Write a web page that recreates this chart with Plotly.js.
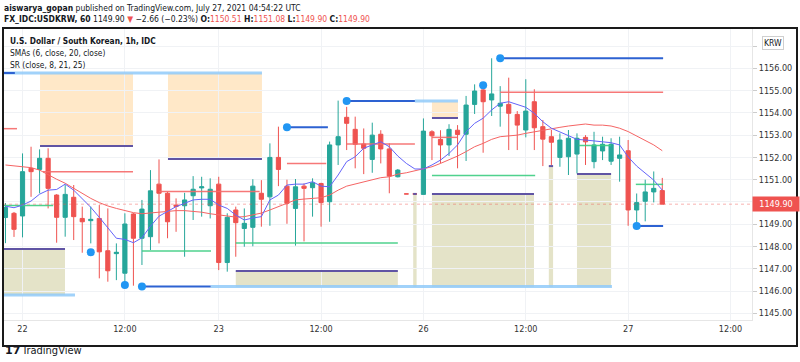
<!DOCTYPE html>
<html><head><meta charset="utf-8">
<script src="https://cdn.plot.ly/plotly-3.0.1.min.js"></script>
<style>html,body{margin:0;padding:0;background:#fff;}#chart{width:800px;height:362px;}</style>
</head><body><div id="chart"></div>
<script>
// ---- candle data (1h bars, first bar = index -1) ----
const openP  = [1149.30,1149.49,1149.37,1151.51,1151.46,1151.96,1150.31,1149.31,1150.21,1149.26,1149.16,1149.26,1147.81,1147.68,1146.80,1149.46,1148.37,1148.44,1150.80,1150.39,1149.86,1149.83,1150.28,1150.63,1149.83,1150.80,1147.28,1149.64,1148.81,1148.86,1150.39,1150.23,1152.00,1150.71,1149.71,1150.71,1150.64,1150.83,1150.01,1152.56,1153.80,1153.26,1152.60,1151.91,1153.04,1152.38,1151.13,1150.36,1150.36,1150.34,1153.15,1152.81,1152.56,1153.22,1153.04,1154.38,1155.03,1154.58,1154.30,1154.38,1153.93,1153.23,1154.50,1153.38,1152.93,1152.00,1152.03,1152.15,1152.90,1151.81,1152.29,1151.83,1151.96,1152.30,1149.64,1150.03,1150.45,1150.51];
const highP  = [1149.95,1149.55,1152.18,1152.48,1152.36,1152.41,1150.35,1150.76,1150.76,1149.79,1149.79,1149.86,1149.71,1148.14,1149.49,1149.50,1150.09,1151.43,1151.91,1150.45,1150.16,1150.41,1151.16,1151.13,1151.06,1151.13,1149.49,1149.79,1149.71,1151.02,1150.98,1152.63,1153.38,1151.00,1151.03,1150.83,1151.06,1150.86,1152.71,1154.55,1154.27,1153.83,1153.30,1153.56,1153.22,1152.63,1151.48,1150.36,1150.36,1153.75,1153.22,1153.22,1153.49,1153.45,1154.76,1155.28,1155.10,1156.45,1155.20,1155.58,1154.08,1155.51,1155.06,1153.68,1153.23,1153.08,1153.23,1153.08,1153.00,1153.15,1152.93,1152.86,1152.93,1152.78,1150.38,1151.00,1151.37,1151.08];
const lowP   = [1148.15,1148.43,1148.41,1150.23,1150.39,1149.71,1148.17,1148.44,1148.29,1147.72,1148.14,1146.57,1146.42,1146.49,1146.35,1146.24,1147.17,1147.84,1148.14,1148.37,1148.66,1147.54,1149.19,1149.34,1149.26,1146.94,1146.87,1147.54,1147.99,1148.01,1148.89,1148.93,1150.71,1149.02,1148.04,1148.23,1149.34,1148.89,1149.11,1151.66,1152.33,1151.51,1151.25,1151.31,1151.73,1150.39,1151.10,1150.36,1150.36,1150.34,1151.88,1151.73,1152.06,1151.51,1151.84,1153.95,1152.21,1153.86,1153.38,1152.33,1152.33,1152.90,1152.33,1151.61,1151.66,1151.58,1151.21,1151.28,1151.66,1151.51,1151.88,1151.66,1150.91,1148.93,1148.96,1149.13,1149.98,1149.90];
const closeP = [1149.75,1148.77,1151.36,1151.36,1151.96,1150.61,1149.31,1150.34,1149.34,1149.11,1149.22,1147.76,1146.91,1147.74,1149.01,1148.37,1149.68,1150.50,1150.39,1149.11,1149.80,1150.09,1150.57,1150.68,1150.57,1147.28,1149.31,1149.07,1149.04,1150.71,1150.12,1152.00,1151.46,1149.94,1150.68,1150.61,1150.86,1149.97,1152.56,1152.93,1153.53,1152.59,1152.41,1153.00,1152.38,1151.16,1151.43,1150.36,1150.36,1153.18,1152.97,1152.56,1153.26,1153.03,1154.35,1154.98,1154.50,1154.85,1154.43,1153.98,1153.45,1154.08,1153.33,1152.82,1152.68,1152.78,1152.86,1152.86,1152.70,1152.56,1152.59,1152.59,1152.11,1149.64,1149.97,1150.45,1150.61,1149.90];
// ---- indicator lines ----
const sma6  = [1149.81,1149.74,1149.86,1150.04,1150.35,1150.53,1150.56,1150.80,1150.53,1150.16,1149.76,1149.31,1148.86,1148.37,1148.32,1148.17,1148.39,1148.91,1149.36,1149.56,1149.79,1149.94,1150.09,1150.12,1150.12,1149.86,1149.71,1149.41,1149.19,1149.28,1149.34,1150.09,1150.31,1150.76,1150.80,1150.80,1150.91,1150.71,1150.68,1151.21,1151.81,1152.03,1152.41,1152.56,1152.70,1152.48,1152.06,1151.73,1151.48,1151.48,1151.66,1151.88,1152.18,1152.56,1153.15,1153.53,1153.76,1154.13,1154.43,1154.50,1154.38,1154.25,1153.98,1153.60,1153.31,1153.15,1153.00,1152.81,1152.78,1152.75,1152.70,1152.66,1152.56,1152.02,1151.61,1151.31,1150.98,1150.53];
const sma20 = [1151.66,1151.61,1151.58,1151.54,1151.43,1151.21,1151.02,1150.84,1150.61,1150.39,1150.16,1149.97,1149.82,1149.71,1149.61,1149.52,1149.47,1149.50,1149.54,1149.59,1149.61,1149.61,1149.59,1149.54,1149.47,1149.41,1149.37,1149.32,1149.34,1149.41,1149.50,1149.64,1149.79,1149.94,1150.09,1150.13,1150.16,1150.19,1150.31,1150.53,1150.71,1150.80,1150.91,1150.98,1151.09,1151.13,1151.25,1151.31,1151.40,1151.48,1151.58,1151.73,1151.88,1152.06,1152.26,1152.48,1152.63,1152.81,1152.93,1152.96,1153.00,1153.08,1153.15,1153.23,1153.31,1153.35,1153.41,1153.45,1153.50,1153.45,1153.45,1153.41,1153.31,1153.16,1152.97,1152.78,1152.56,1152.30];
// ---- time axis ----
const tickIdx  = [1,13,24,36,48,60,72,84];
const tickText = ['22','12:00','23','12:00','26','12:00','27','12:00'];
const priceTicks = [1145,1146,1147,1148,1149,1150,1151,1152,1153,1154,1155,1156,1157];
const hiddenPriceLabels = [1150, 1157]; // covered by the last-price tag and the currency tag
// ---- SR zones (bar index from/to, price top/bottom) ----
const supplyX0 = [3.05, 18.05, 49.0], supplyX1 = [13.95, 29.07, 52.05];
const supplyTop = [1155.79, 1155.79, 1154.49], supplyBot = [1152.51, 1151.93, 1153.77];
const demandX0 = [-1.3, 26.0, 46.8, 49.0, 62.7, 66.0], demandX1 = [5.98, 45.0, 47.2, 60.96, 63.2, 70.0];
const demandTop = [1147.89, 1146.90, 1150.36, 1150.36, 1151.61, 1151.25], demandBot = [1145.82, 1146.18, 1146.18, 1146.18, 1146.18, 1146.18];
// pivot level lines
const pivotDotX = [9, 13, 15, 32, 39, 55, 57, 73];
const pivotDotY = [1147.74, 1146.27, 1146.20, 1153.35, 1154.53, 1155.24, 1156.45, 1148.92];
const levelX0 = [-1.3, 15, 32, 39, 57, 73], levelX1 = [0.1, 23.06, 36.8, 47.0, 76.1, 76.1];
const levelY  = [1155.79, 1146.20, 1153.35, 1154.53, 1156.45, 1148.92];
const extX0 = [-1.3, -1.3, 23.06, 47.0], extX1 = [29.07, 7.15, 70.1, 52.05];
const extY  = [1155.79, 1145.82, 1146.20, 1154.53];
const resX0 = [-1.3, 3.4, 17.0, 32.0, 39.0, 49.0, 57.0], resX1 = [0.35, 13.95, 28.8, 36.6, 47.0, 52.0, 76.1];
const resY  = [1153.29, 1151.36, 1150.47, 1151.73, 1152.60, 1152.90, 1154.92];
const supX0 = [-1.3, 15.0, 26.0, 49.0, 66.2, 72.9], supX1 = [4.6, 23.1, 45.0, 61.1, 70.0, 76.1];
const supY  = [1149.84, 1147.80, 1148.16, 1151.19, 1152.53, 1150.79];
const lastPrice = 1149.90;

// ---- layout geometry ----
const W = 800, H = 362, ML = 3, MR = 48, MT = 28, MB = 42;
const PW = W - ML - MR, PH = H - MT - MB;
const px = x => (x - ML) / PW;
const py = y => (H - MB - y) / PH;
const FONT = '"DejaVu Sans Condensed", "DejaVu Sans", sans-serif';
const RED = '#ef5350', GREEN = '#26a69a';

const barX = openP.map((_, k) => k - 1);
function segs(x0s, x1s, ys) {
  const x = [], y = [];
  for (let k = 0; k < ys.length; k++) { x.push(x0s[k], x1s[k], null); y.push(ys[k], ys[k], null); }
  return {x, y};
}
function lineTrace(s, color, width) {
  return {type:'scatter', mode:'lines', x:s.x, y:s.y, line:{color, width}, hoverinfo:'skip', showlegend:false, connectgaps:false};
}

const shapes = [];
for (let k = 0; k < supplyX0.length; k++)
  shapes.push({type:'rect', xref:'x', yref:'y', x0:supplyX0[k], x1:supplyX1[k], y0:supplyBot[k], y1:supplyTop[k], fillcolor:'rgb(255,232,200)', line:{width:0}, layer:'below'});
for (let k = 0; k < demandX0.length; k++)
  shapes.push({type:'rect', xref:'x', yref:'y', x0:demandX0[k], x1:demandX1[k], y0:demandBot[k], y1:demandTop[k], fillcolor:'rgb(228,227,200)', line:{width:0}, layer:'below'});
shapes.push({type:'line', xref:'paper', yref:'y', x0:0, x1:1, y0:lastPrice, y1:lastPrice, line:{color:'rgba(239,83,80,0.45)', width:1, dash:'dot'}});
shapes.push({type:'rect', xref:'paper', yref:'paper', x0:px(3), x1:px(797), y0:py(346), y1:py(28), line:{color:'#1a1a1a', width:2}, fillcolor:'rgba(0,0,0,0)'});

const edgeS = segs(supplyX0.concat(demandX0), supplyX1.concat(demandX1), supplyBot.concat(demandTop));
const traces = [
  lineTrace(segs(extX0, extX1, extY), 'rgba(144,202,249,0.85)', 3),
  lineTrace(edgeS, 'rgb(96,84,164)', 2),
  lineTrace(segs(resX0, resX1, resY), 'rgba(245,105,105,0.9)', 1.5),
  lineTrace(segs(supX0, supX1, supY), 'rgba(60,205,130,0.9)', 1.5),
  {type:'candlestick', x:barX, open:openP, high:highP, low:lowP, close:closeP,
   increasing:{line:{color:GREEN, width:1}, fillcolor:GREEN},
   decreasing:{line:{color:RED, width:1}, fillcolor:RED},
   whiskerwidth:0, hoverinfo:'skip', showlegend:false},
  {type:'scatter', mode:'lines', x:barX, y:sma20, line:{color:'rgb(245,100,100)', width:1}, hoverinfo:'skip', showlegend:false},
  {type:'scatter', mode:'lines', x:barX, y:sma6, line:{color:'rgb(100,100,250)', width:1}, hoverinfo:'skip', showlegend:false},
  lineTrace(segs(levelX0, levelX1, levelY), 'rgb(45,98,210)', 2),
  {type:'scatter', mode:'markers', x:pivotDotX, y:pivotDotY, marker:{color:'#2196f3', size:8}, hoverinfo:'skip', showlegend:false}
];

const txt = (text, x, y, size, opts = {}) => Object.assign({
  text, xref:'paper', yref:'paper', x:px(x), y:py(y), xanchor:'left', yanchor:'middle', showarrow:false,
  borderpad:0, align:'left', font:{family:FONT, size:size, color:'#131722'}
}, opts);

const annotations = [
  txt('<b>aiswarya_gopan</b> published on TradingView.com, July 27, 2021 04:54:22 UTC<br>' +
      '<b>FX_IDC:USDKRW, 60</b> 1149.90 <span style="color:#ef5350">▼</span> −2.66 (−0.23%) <b>O:</b><span style="color:#ef5350">1150.51</span> <b>H:</b><span style="color:#ef5350">1151.08</span> <b>L:</b><span style="color:#ef5350">1149.90</span> <b>C:</b><span style="color:#ef5350">1149.90</span>',
      3, 13.5, 8.5),
  txt('<b>U.S. Dollar / South Korean, 1h, IDC</b>', 9, 41, 8.3),
  txt('SMAs (6, close, 20, close)', 9, 53, 8.3),
  txt('SR (close, 8, 21, 25)', 9, 65, 8.3),
  {text:'1149.90', xref:'paper', yref:'y', x:1, y:lastPrice, xanchor:'left', yanchor:'middle', showarrow:false,
   bgcolor:RED, font:{family:FONT, size:9, color:'#ffffff'}, width:44, height:12, borderpad:1},
  {text:'KRW', xref:'paper', yref:'paper', x:px(773), y:py(43), xanchor:'center', yanchor:'middle', showarrow:false,
   bgcolor:'#ffffff', bordercolor:'#cfcfcf', borderwidth:1, borderpad:1, font:{family:FONT, size:8.5, color:'#131722'}},
  txt('<b>17</b>', 4, 350, 11, {font:{family:'DejaVu Sans', size:11, color:'#131722'}}),
  txt('TradingView', 20, 350, 11)
];

const layout = {
  width:W, height:H, margin:{l:ML, r:MR, t:MT, b:MB, pad:0},
  paper_bgcolor:'#ffffff', plot_bgcolor:'#ffffff', showlegend:false,
  font:{family:FONT, size:9, color:'#131722'},
  xaxis:{range:[-1.29, 86.52], type:'linear', tickmode:'array', tickvals:tickIdx, ticktext:tickText,
         showgrid:true, gridcolor:'#f0f2f5', zeroline:false, showline:true, linecolor:'#e6e6e6',
         ticks:'', tickfont:{size:9, color:'#333'}, rangeslider:{visible:false}, fixedrange:true},
  yaxis:{range:[1144.70, 1157.81], side:'right', tickmode:'array', tickvals:priceTicks,
         ticktext:priceTicks.map(v => hiddenPriceLabels.includes(v) ? '' : v.toFixed(2)),
         showgrid:true, gridcolor:'#f0f2f5', zeroline:false,
         showline:true, linecolor:'#e6e6e6', ticks:'outside', ticklen:4, tickcolor:'#cccccc',
         tickfont:{size:9, color:'#333'}, fixedrange:true},
  shapes, annotations
};
Plotly.newPlot('chart', traces, layout, {staticPlot:true, displayModeBar:false});
</script>
</body></html>
